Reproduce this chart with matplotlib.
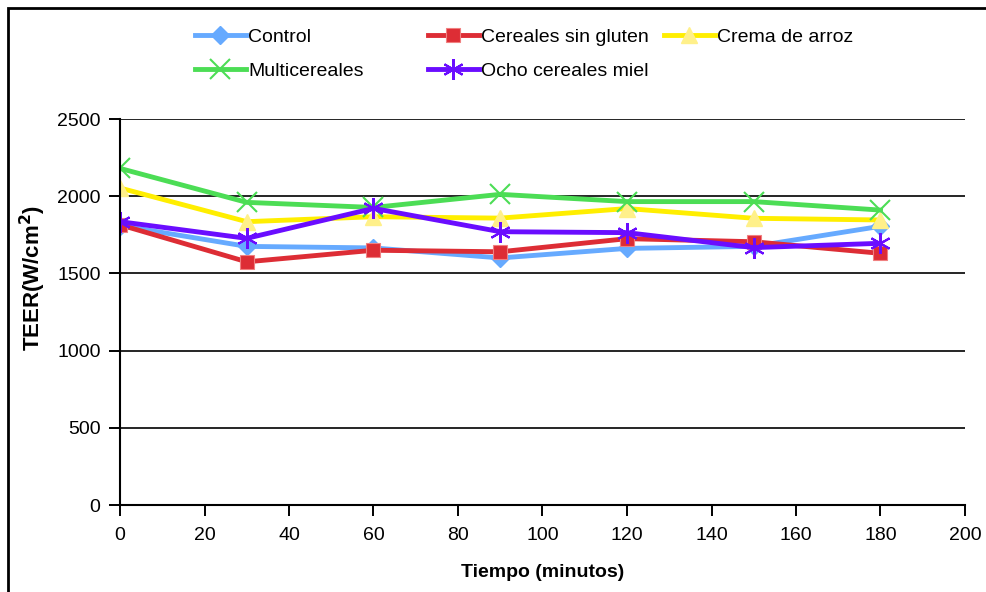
import matplotlib
matplotlib.use("Agg")
import matplotlib.pyplot as plt
from matplotlib.patches import Rectangle

plt.rcParams['font.family'] = ['Liberation Sans', 'DejaVu Sans']

tiempo = [0, 30, 60, 90, 120, 150, 180]
control = [1810, 1675, 1665, 1600, 1662, 1675, 1805]
sin_gluten = [1815, 1575, 1650, 1640, 1725, 1705, 1630]
crema_arroz = [2053, 1835, 1867, 1858, 1920, 1857, 1846]
multicereales = [2180, 1960, 1927, 2012, 1965, 1965, 1910]
ocho_cereales = [1835, 1727, 1921, 1770, 1764, 1667, 1695]

series = [
    ("Control", control, "#66aaff", "D", dict(markersize=9)),
    ("Cereales sin gluten", sin_gluten, "#dd2d35", "s", dict(markersize=10, markeredgecolor="#f08080", markeredgewidth=0.8)),
    ("Crema de arroz", crema_arroz, "#ffee00", "^", dict(markersize=12, markerfacecolor="#fff08a", markeredgecolor="#fff08a")),
    ("Multicereales", multicereales, "#4cdd55", "x", dict(markersize=14, markeredgewidth=1.5)),
    ("Ocho cereales miel", ocho_cereales, "#6a0dff", (6, 2, 0), dict(markersize=15, markeredgewidth=1.5)),
]

fig = plt.figure(figsize=(9.87, 5.92), dpi=100)
ax = fig.add_axes([120/987, 1-505/592, (965-120)/987, (505-119)/592])

handles = []
for name, vals, color, marker, kw in series:
    h, = ax.plot(tiempo, vals, color=color, lw=3.5, marker=marker, label=name, **kw)
    handles.append(h)

ax.set_xlim(0, 200)
ax.set_ylim(0, 2500)
ax.set_xticks(range(0, 201, 20))
ax.set_yticks(range(0, 2501, 500))
ax.yaxis.grid(True, color="black", lw=1.2)
ax.set_axisbelow(True)
for s in ["top", "right"]:
    ax.spines[s].set_visible(False)
ax.spines["left"].set_linewidth(1.5)
ax.spines["bottom"].set_linewidth(1.5)
ax.tick_params(axis="both", labelsize=14, length=8, width=1.4, direction="out")
ax.tick_params(axis="x", pad=8)
ax.tick_params(axis="y", pad=6)
ax.set_xlabel("Tiempo (minutos)", fontsize=14, fontweight="bold", labelpad=14)
fig.text(33/987, 1-278/592, "TEER(W/cm$^{\\mathbf{2}}$)", fontsize=16, fontweight="bold",
         rotation=90, ha="center", va="center")

# legend: three columns placed individually
cols = [
    ([handles[0], handles[3]], 195),
    ([handles[1], handles[4]], 428),
    ([handles[2]], 664),
]
for hs, x0 in cols:
    fig.legend(handles=hs, labels=[h.get_label() for h in hs],
               ncol=1, loc="upper left", bbox_to_anchor=(x0/987, 1-28/592),
               borderaxespad=0, borderpad=0,
               frameon=False, fontsize=14, handlelength=2.6, handletextpad=0.15,
               labelspacing=0.85)

fig.patches.append(Rectangle((8/987, -0.1), 1.2, 1.1 - 8/592, transform=fig.transFigure,
                             fill=False, edgecolor="black", lw=2))

fig.savefig("out.png", dpi=100)
